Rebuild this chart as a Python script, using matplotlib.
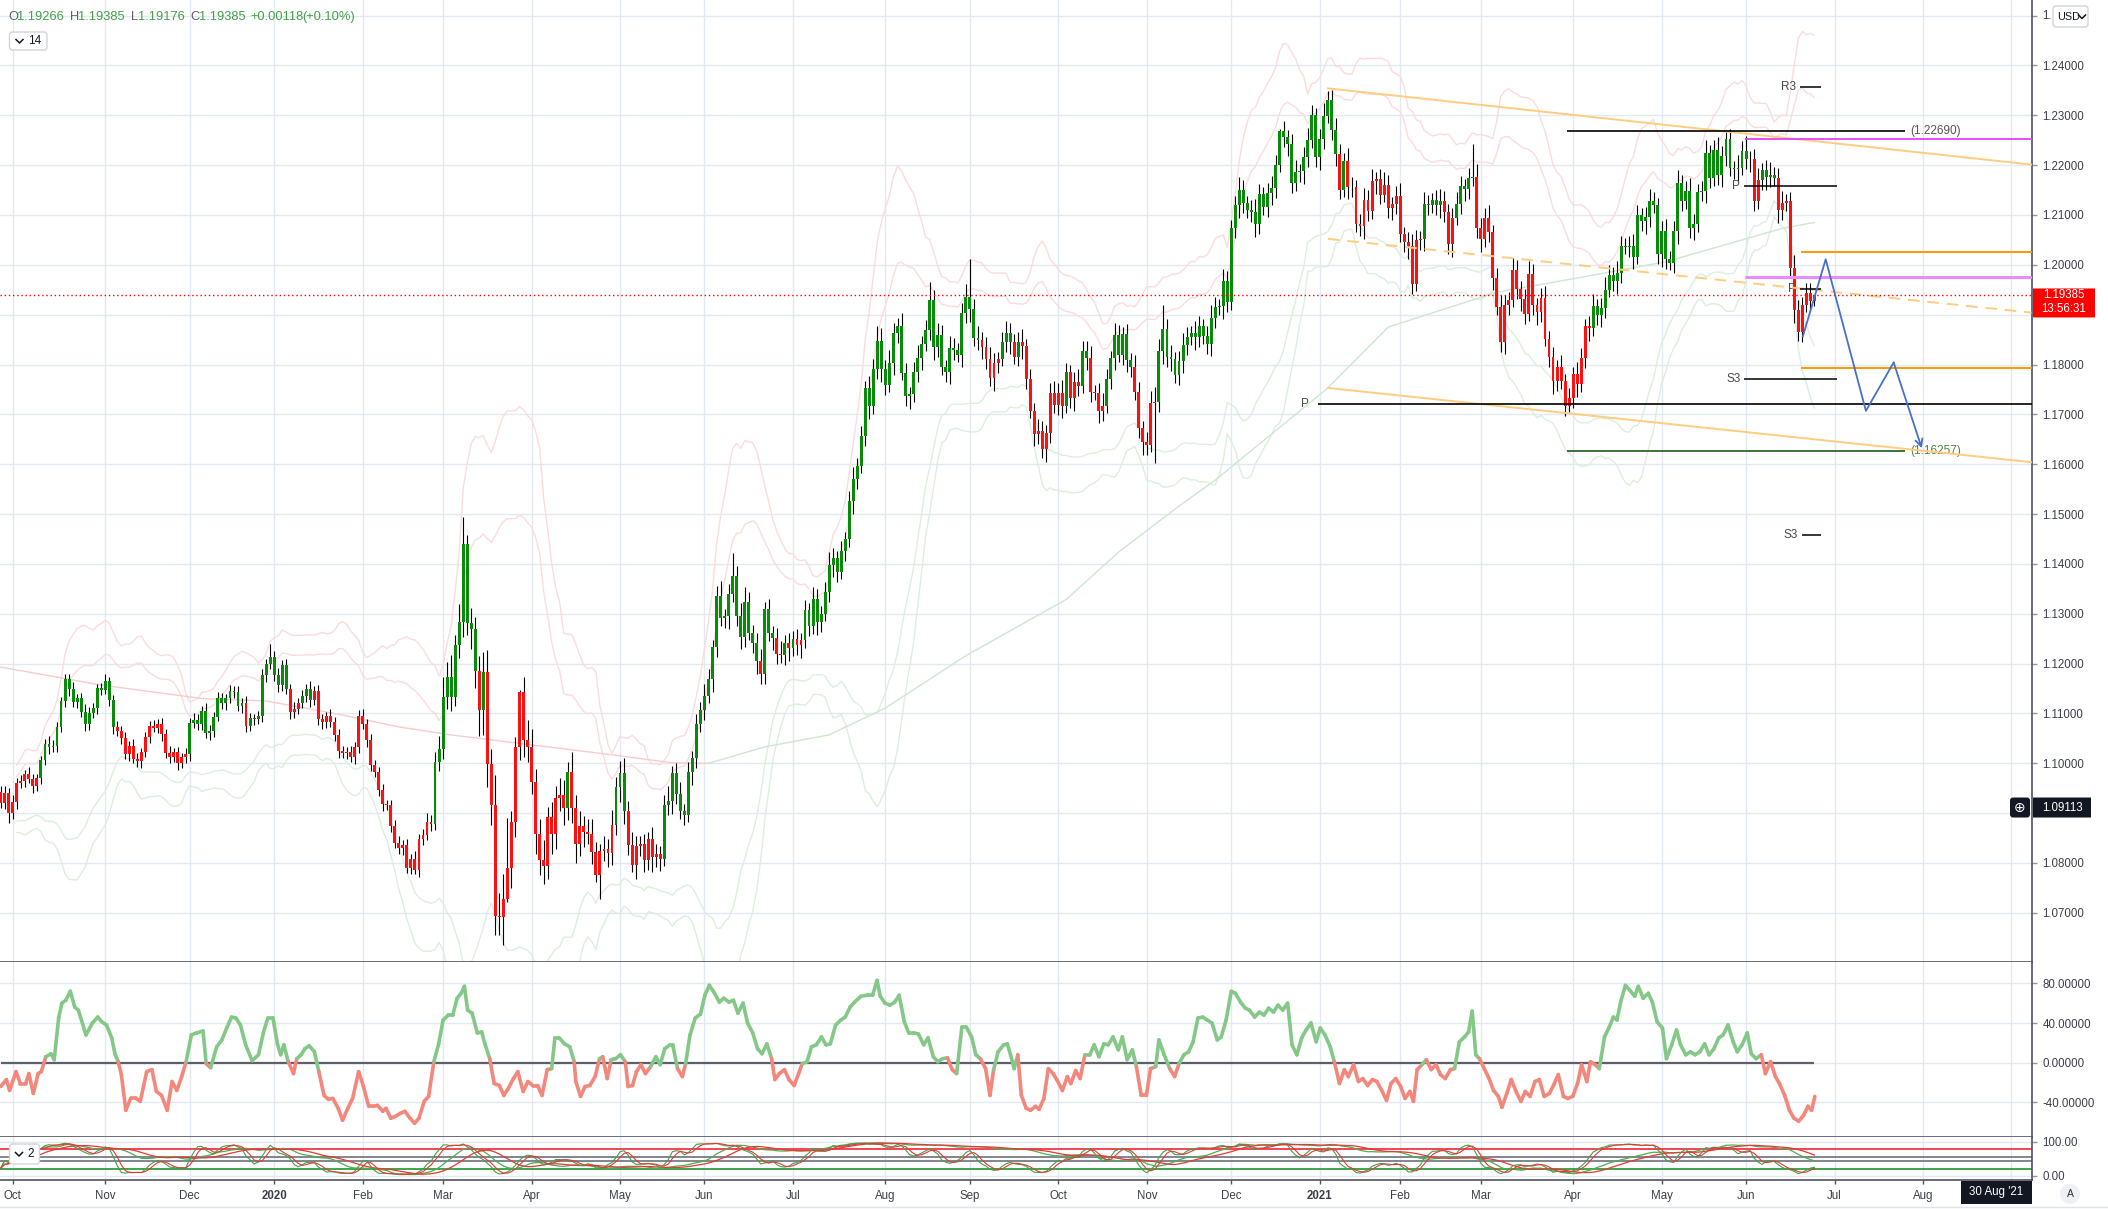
import numpy as np
import pandas as pd
import matplotlib
matplotlib.use("Agg")
import matplotlib.pyplot as plt
from matplotlib import transforms
from matplotlib.collections import LineCollection
from matplotlib.patches import FancyBboxPatch, Circle
from matplotlib.lines import Line2D

plt.rcParams['font.family'] = ['Liberation Sans', 'DejaVu Sans']

# ---------------- data (EURUSD daily) ----------------
first_day = '2019-09-26'
closed_days = ['2019-12-25', '2020-01-01', '2020-12-25', '2021-01-01']
first_open = 1.0943

# daily closes in pips (1 pip = 0.0001)
close_pips = [
    10921, 10940, 10900, 10923, 10960, 10965, 10979, 10969, 10955, 10970,
    11007, 11039, 11032, 11035, 11072, 11125, 11170, 11149, 11123, 11130,
    11103, 11079, 11100, 11110, 11151, 11148, 11165, 11127, 11073, 11065,
    11050, 11019, 11035, 11009, 11005, 11022, 11053, 11075, 11070, 11078,
    11058, 11020, 11012, 11022, 11000, 11012, 11018, 11080, 11087, 11079,
    11105, 11060, 11065, 11093, 11130, 11120, 11130, 11145, 11143, 11115,
    11121, 11075, 11091, 11088, 11095, 11177, 11199, 11213, 11177, 11157,
    11197, 11150, 11103, 11108, 11120, 11135, 11150, 11127, 11145, 11088,
    11082, 11095, 11082, 11057, 11025, 11020, 11022, 11013, 11033, 11095,
    11078, 11047, 10997, 10983, 10947, 10919, 10917, 10875, 10840, 10830,
    10836, 10790, 10809, 10785, 10849, 10857, 10883, 10879, 11003, 11029,
    11133, 11173, 11134, 11237, 11284, 11440, 11282, 11269, 11186, 11106,
    11183, 10998, 10916, 10694, 10692, 10727, 10789, 10883, 11032, 11143,
    11047, 11033, 10963, 10858, 10806, 10793, 10892, 10858, 10930, 10936,
    10911, 10982, 10911, 10839, 10874, 10863, 10858, 10823, 10776, 10824,
    10829, 10821, 10876, 10953, 10980, 10904, 10837, 10795, 10835, 10839,
    10806, 10848, 10812, 10819, 10808, 10916, 10924, 10980, 10938, 10904,
    10897, 10982, 11010, 11078, 11107, 11135, 11169, 11233, 11336, 11291,
    11295, 11339, 11376, 11296, 11254, 11323, 11262, 11242, 11205, 11179,
    11309, 11261, 11252, 11220, 11217, 11242, 11231, 11250, 11237, 11247,
    11307, 11275, 11329, 11283, 11300, 11343, 11398, 11411, 11384, 11426,
    11449, 11526, 11570, 11597, 11657, 11752, 11716, 11791, 11848, 11790,
    11759, 11804, 11863, 11878, 11783, 11736, 11740, 11785, 11814, 11842,
    11870, 11930, 11835, 11859, 11794, 11785, 11833, 11829, 11820, 11903,
    11936, 11911, 11853, 11850, 11836, 11811, 11772, 11803, 11811, 11846,
    11863, 11846, 11816, 11846, 11837, 11770, 11707, 11661, 11666, 11630,
    11663, 11742, 11718, 11743, 11717, 11784, 11732, 11765, 11757, 11828,
    11813, 11744, 11743, 11707, 11717, 11770, 11813, 11859, 11820, 11861,
    11809, 11794, 11744, 11672, 11644, 11639, 11722, 11725, 11827, 11872,
    11815, 11811, 11778, 11807, 11839, 11855, 11863, 11855, 11877, 11857,
    11842, 11894, 11915, 11917, 11967, 11925, 12074, 12119, 12151, 12123,
    12109, 12106, 12081, 12142, 12115, 12144, 12154, 12201, 12269, 12256,
    12243, 12164, 12186, 12188, 12216, 12250, 12300, 12216, 12252, 12299,
    12330, 12270, 12223, 12151, 12209, 12157, 12156, 12081, 12077, 12130,
    12107, 12168, 12172, 12141, 12161, 12114, 12122, 12139, 12061, 12045,
    12037, 11962, 12049, 12052, 12121, 12119, 12130, 12119, 12128, 12106,
    12041, 12094, 12121, 12158, 12152, 12174, 12177, 12074, 12051, 12094,
    12065, 11974, 11915, 11846, 11919, 11930, 11989, 11952, 11932, 11902,
    11982, 11919, 11905, 11933, 11852, 11815, 11766, 11795, 11766, 11717,
    11733, 11780, 11760, 11813, 11877, 11873, 11917, 11900, 11913, 11950,
    11980, 11967, 11983, 12038, 12036, 12037, 12016, 12099, 12087, 12096,
    12127, 12119, 12021, 12067, 12012, 12004, 12067, 12165, 12127, 12149,
    12074, 12081, 12147, 12149, 12225, 12174, 12231, 12181, 12218, 12253,
    12194, 12193, 12195, 12228, 12213, 12212, 12127, 12170, 12190, 12176,
    12181, 12174, 12109, 12123, 12127, 11994, 11909, 11865, 11920, 11944,
    11927, 11939,
]

# wick above / below the body, pips
wick_up = [
    12, 15, 10, 14, 10, 12, 8, 14, 10, 9,
    8, 10, 15, 12, 10, 8, 9, 9, 14, 10,
    12, 15, 12, 10, 8, 10, 14, 8, 10, 12,
    9, 12, 10, 13, 12, 8, 10, 9, 12, 10,
    12, 10, 15, 8, 10, 9, 12, 10, 14, 12,
    10, 15, 12, 9, 14, 12, 10, 13, 10, 12,
    10, 14, 9, 8, 10, 12, 10, 26, 12, 15,
    10, 12, 9, 14, 10, 12, 10, 15, 10, 12,
    10, 8, 14, 10, 12, 9, 10, 12, 10, 12,
    14, 10, 12, 9, 10, 12, 8, 10, 12, 14,
    10, 12, 9, 15, 10, 12, 18, 14, 20, 25,
    40, 30, 45, 20, 35, 55, 18, 30, 25, 30,
    40, 45, 30, 60, 45, 50, 101, 22, 20, 4,
    30, 40, 35, 25, 30, 40, 20, 30, 25, 35,
    30, 20, 40, 25, 30, 20, 25, 30, 20, 15,
    25, 20, 30, 20, 25, 30, 20, 25, 20, 15,
    20, 15, 25, 20, 15, 20, 30, 15, 20, 25,
    15, 20, 15, 20, 15, 25, 20, 15, 20, 30,
    15, 20, 46, 20, 25, 30, 20, 15, 20, 25,
    15, 20, 15, 20, 25, 15, 20, 15, 20, 15,
    20, 15, 25, 20, 15, 20, 25, 20, 15, 20,
    15, 20, 25, 15, 20, 15, 25, 20, 30, 25,
    20, 25, 20, 15, 25, 20, 15, 20, 25, 15,
    20, 35, 20, 25, 20, 15, 25, 20, 15, 20,
    25, 75, 20, 25, 15, 20, 25, 20, 15, 20,
    25, 20, 15, 20, 25, 15, 20, 15, 25, 20,
    15, 20, 25, 20, 25, 20, 15, 20, 25, 20,
    20, 25, 15, 20, 25, 20, 15, 25, 20, 15,
    20, 15, 25, 20, 15, 20, 25, 30, 25, 48,
    20, 25, 15, 20, 25, 20, 15, 25, 20, 15,
    20, 25, 20, 15, 25, 20, 15, 20, 25, 20,
    15, 20, 25, 20, 15, 20, 25, 20, 3, 20,
    15, 20, 25, 15, 20, 25, 20, 15, 20, 25,
    19, 20, 25, 20, 15, 25, 20, 15, 20, 25,
    20, 25, 15, 20, 25, 20, 15, 20, 25, 15,
    20, 25, 20, 15, 25, 20, 15, 20, 25, 20,
    15, 20, 25, 20, 15, 20, 66, 25, 20, 20,
    25, 15, 20, 25, 20, 15, 25, 20, 15, 20,
    25, 20, 15, 20, 25, 15, 20, 15, 25, 15,
    20, 15, 25, 20, 15, 20, 25, 15, 20, 25,
    20, 15, 25, 20, 15, 20, 25, 20, 15, 20,
    25, 20, 15, 20, 25, 15, 20, 25, 15, 20,
    25, 20, 15, 20, 25, 15, 20, 25, 20, 13,
    20, 15, 25, 20, 30, 15, 20, 25, 15, 20,
    25, 15, 20, 25, 15, 20, 25, 20, 15, 20,
    20, 0,
]
wick_dn = [
    10, 12, 20, 12, 14, 10, 12, 8, 14, 10,
    12, 10, 14, 10, 12, 10, 12, 14, 10, 12,
    10, 14, 12, 9, 12, 10, 8, 12, 14, 10,
    12, 10, 14, 9, 12, 14, 10, 12, 8, 10,
    14, 10, 12, 9, 14, 10, 12, 14, 10, 12,
    12, 10, 14, 12, 9, 12, 14, 10, 12, 10,
    14, 12, 10, 12, 9, 12, 14, 10, 12, 14,
    12, 10, 14, 12, 10, 9, 12, 14, 10, 12,
    14, 12, 10, 12, 14, 9, 12, 10, 14, 12,
    10, 14, 12, 10, 12, 14, 10, 12, 9, 12,
    14, 10, 12, 7, 14, 12, 10, 15, 12, 18,
    20, 25, 30, 20, 25, 30, 25, 40, 35, 51,
    50, 45, 40, 39, 37, 56, 5, 40, 30, 25,
    35, 30, 25, 40, 30, 35, 25, 40, 30, 25,
    35, 25, 30, 40, 25, 30, 20, 25, 15, 49,
    20, 30, 25, 20, 30, 25, 20, 13, 28, 20,
    25, 20, 30, 20, 25, 15, 20, 25, 20, 15,
    20, 15, 25, 20, 15, 20, 15, 25, 20, 15,
    20, 25, 15, 20, 25, 20, 15, 20, 25, 20,
    20, 15, 25, 20, 15, 20, 25, 15, 20, 25,
    15, 20, 15, 25, 20, 15, 20, 25, 20, 15,
    20, 15, 25, 20, 15, 20, 25, 15, 20, 25,
    20, 15, 25, 20, 15, 20, 25, 15, 20, 25,
    15, 20, 25, 20, 15, 20, 25, 20, 15, 25,
    20, 25, 15, 20, 25, 20, 15, 25, 20, 15,
    20, 25, 15, 20, 25, 20, 15, 25, 20, 18,
    25, 20, 15, 20, 25, 15, 20, 25, 20, 15,
    25, 20, 15, 25, 20, 15, 20, 25, 15, 20,
    25, 20, 15, 20, 25, 20, 15, 120, 20, 25,
    20, 25, 15, 20, 25, 20, 15, 25, 20, 15,
    20, 25, 20, 15, 25, 20, 15, 20, 25, 20,
    15, 20, 25, 20, 15, 20, 25, 20, 15, 20,
    25, 20, 15, 20, 25, 20, 15, 20, 25, 20,
    15, 20, 25, 20, 15, 25, 20, 15, 20, 25,
    20, 15, 25, 20, 15, 20, 25, 20, 15, 20,
    25, 20, 15, 20, 25, 20, 15, 20, 25, 20,
    20, 25, 15, 20, 25, 20, 15, 20, 25, 15,
    20, 25, 15, 20, 25, 20, 15, 20, 25, 20,
    15, 20, 25, 20, 15, 20, 25, 20, 15, 20,
    13, 20, 25, 15, 20, 25, 15, 20, 25, 20,
    15, 20, 25, 20, 15, 20, 25, 15, 20, 25,
    20, 15, 20, 25, 20, 15, 20, 25, 20, 15,
    20, 25, 15, 20, 25, 20, 15, 20, 25, 20,
    15, 20, 25, 15, 20, 25, 20, 15, 20, 25,
    20, 15, 25, 20, 15, 20, 25, 18, 20, 15,
    20, 9,
]

# bars painted green by the bar-colour indicator (inclusive ranges)
green_runs = [(10, 28), (47, 60), (62, 71), (75, 77), (108, 118), (120, 120),
              (141, 141), (153, 155), (165, 188), (190, 192), (195, 195),
              (197, 197), (200, 243), (249, 251), (253, 253), (265, 265),
              (269, 270), (275, 281), (288, 332), (334, 334), (354, 358),
              (362, 366), (396, 435), (438, 441)]

# oscillator (middle pane), read as (bar, value) points
osc_bars = [
    0.0, 1.4, 2.2, 3.8, 4.9, 6.2, 7.0, 8.1, 9.3, 10.1,
    11.2, 12.5, 13.3, 14.4, 15.2, 16.2, 17.3, 18.4, 19.3, 21.2,
    22.8, 24.1, 25.2, 26.3, 27.6, 28.4, 29.2, 30.0, 31.1, 32.3,
    33.6, 34.7, 36.3, 37.6, 38.7, 40.0, 41.4, 42.6, 43.8, 45.0,
    46.1, 47.4, 48.7, 50.3, 51.1, 52.2, 53.7, 55.0, 56.3, 57.4,
    58.5, 59.6, 60.9, 62.5, 64.1, 65.3, 66.4, 67.7, 68.8, 69.6,
    70.4, 71.5, 72.8, 73.6, 74.7, 75.6, 76.7, 78.0, 79.1, 80.4,
    81.5, 82.6, 83.9, 85.0, 86.3, 87.5, 89.0, 90.2, 91.5, 92.6,
    93.7, 95.0, 95.8, 97.0, 98.2, 99.4, 100.5, 101.8, 102.9, 104.0,
    105.3, 106.4, 107.7, 108.9, 110.0, 111.3, 112.4, 113.5, 114.5, 115.3,
    116.1, 117.2, 118.5, 119.6, 120.4, 121.6, 122.7, 124.0, 125.1, 126.2,
    127.5, 128.6, 129.9, 131.1, 132.3, 133.5, 134.6, 135.9, 137.0, 137.8,
    138.9, 140.2, 141.5, 142.6, 143.0, 144.2, 145.3, 146.5, 147.8, 148.9,
    149.7, 150.8, 151.8, 152.9, 154.1, 155.3, 156.0, 157.1, 158.1, 159.2,
    160.3, 161.6, 162.9, 164.0, 165.1, 166.4, 167.1, 168.3, 169.5, 170.3,
    171.4, 172.7, 174.0, 175.1, 176.2, 177.5, 178.7, 179.8, 181.1, 182.2,
    183.3, 184.6, 185.7, 187.0, 188.2, 189.3, 190.5, 191.7, 192.5, 193.6,
    194.9, 196.0, 197.3, 198.4, 199.3, 200.5, 201.6, 202.8, 204.1, 205.2,
    206.3, 207.6, 208.9, 210.0, 211.2, 212.3, 213.9, 215.5, 216.8, 217.9,
    218.7, 219.9, 221.1, 222.3, 223.4, 224.7, 225.8, 227.1, 228.2, 229.5,
    230.6, 231.9, 233.0, 234.2, 235.4, 236.6, 237.7, 239.0, 240.1, 241.4,
    242.5, 243.6, 244.9, 246.0, 246.9, 248.0,
    249.4, 250.3, 251.1, 252.0, 252.9, 253.8, 255.0, 256.1, 257.3, 258.2,
    259.4, 260.5, 261.7, 262.6, 264.0, 265.2, 266.1, 267.3, 268.4, 269.6,
    270.8, 271.9, 273.1, 274.3, 275.4, 276.6, 277.9, 278.9, 280.1, 281.4,
    282.4, 283.6, 284.9, 285.9, 287.2, 288.0, 289.3, 290.7, 291.9, 293.0,
    294.2, 295.4, 296.5, 297.7, 298.9, 300.0, 301.2, 302.5, 303.5, 304.7,
    306.0, 307.0, 308.3, 309.5, 310.5, 311.8, 313.0, 314.1, 315.3, 316.5,
    317.6, 318.8, 320.0, 321.1, 322.3, 323.5, 324.6, 325.8, 327.1, 328.1,
    329.3, 330.6, 331.6, 332.9, 334.1, 335.1, 336.4, 337.6, 338.7, 339.9,
    341.1, 342.2, 343.4, 344.6, 345.7, 346.9, 348.1, 349.2, 350.4, 351.3,
    352.2, 353.4, 354.5, 355.7, 356.9, 358.0, 359.2, 360.5, 361.5, 362.7,
    364.0, 365.0, 365.9, 366.8, 367.7, 368.9, 370.1, 371.2, 372.4, 373.3,
    374.5, 375.6, 376.8, 378.0, 379.1, 380.3, 381.5, 382.6, 383.8, 385.1,
    386.1, 387.3, 388.6, 389.6, 390.9, 392.1, 393.1, 394.4, 395.3, 396.5,
    397.5, 398.8, 400.0, 401.0, 401.9, 402.8, 404.0, 405.3, 406.3, 407.2,
    408.4, 409.7, 410.7, 411.9, 413.2, 414.2, 415.5, 416.7, 417.7, 419.0,
    420.2, 421.3, 422.5, 423.7, 424.8, 426.0, 427.2, 428.3, 429.5, 430.8,
    431.8, 433.0, 434.3, 435.3, 436.5, 437.8, 438.8, 440.1, 441.3, 442.3,
    443.6, 444.8, 445.9, 447.1, 448.3, 449.4, 450.3, 451.1,
]
osc_vals = [
    -24, -17, -28, -9, -21, -21, -11, -31, -11, -9,
    6, 9, 3, 45, 60, 63, 72, 56, 53, 28,
    40, 46, 41, 38, 25, 9, 1, -12, -48, -36,
    -36, -39, -9, -7, -29, -33, -48, -19, -28, -14,
    1, 28, 30, 32, -1, -5, 16, 23, 36, 46,
    45, 38, 18, 2, 8, 30, 45, 45, 19, 8,
    18, 1, -11, 4, 8, 14, 17, 11, -9, -33,
    -37, -36, -46, -58, -46, -36, -9, -24, -44, -44,
    -43, -49, -46, -56, -54, -51, -49, -56, -61, -56,
    -39, -34, 1, 19, 43, 48, 48, 65, 70, 77,
    53, 50, 30, 31, 19, 4, -21, -23, -33, -26,
    -16, -9, -29, -19, -23, -23, -33, -7, -6, 25,
    25, 19, 16, 1, -19, -34, -24, -23, -14, 4,
    6, -16, 3, 4, 8, 1, -24, -23, -9, -2,
    -11, -4, 6, -2, 14, 18, 18, -6, -14, -1,
    28, 45, 49, 68, 78, 70, 61, 65, 61, 63,
    50, 60, 40, 30, 14, 9, 19, 4, -17, -11,
    -7, -17, -23, -11, -1, 1, 16, 18, 26, 18,
    19, 38, 43, 46, 56, 61, 67, 68, 68, 83,
    67, 60, 58, 61, 68, 41, 30, 30, 29, 18,
    25, 6, 1, 4, 5, -7, -11, 36, 36, 26,
    8, 4, -6, -33, -7, 11,
    18, 19, 8, -6, 8, -33, -46, -48, -44, -47,
    -36, -6, -11, -17, -28, -14, -21, -8, -16, 8,
    8, 18, 6, 19, 18, 26, 13, 26, 3, 13,
    -4, -33, -33, -6, -4, 23, 8, -6, -14, -1,
    8, 11, 21, 45, 46, 43, 40, 23, 26, 43,
    72, 70, 61, 55, 53, 46, 51, 48, 55, 51,
    58, 53, 60, 18, 8, 25, 33, 40, 21, 35,
    28, 16, 1, -21, -7, -14, -2, -19, -16, -23,
    -17, -19, -28, -38, -21, -16, -24, -36, -29, -39,
    -7, -2, 3, -7, -2, -12, -16, -7, -6, 21,
    26, 31, 52, 8, 4, -6, -16, -28, -34, -45,
    -31, -17, -29, -39, -29, -34, -19, -17, -34, -31,
    -23, -12, -34, -36, -34, -21, -2, -19, 1, -2,
    -6, 26, 36, 46, 43, 61, 78, 72, 67, 77,
    65, 70, 61, 41, 35, 4, 18, 33, 18, 8,
    11, 8, 11, 19, 8, 14, 25, 28, 38, 21,
    11, 18, 30, 9, 4, 8, -11, 1, -14, -21,
    -33, -48, -56, -59, -53, -44, -48, -34,
]

# long moving average overlay, read as (bar, price)
ma_bars = [0, 25, 50, 66, 83, 99, 112, 132, 152, 167, 176, 190, 206, 220,
           240, 265, 278, 293, 302, 330, 345, 372, 391, 414, 443, 451]
ma_vals = [1.1193, 1.1157, 1.1130, 1.1125, 1.1100, 1.1073, 1.1057, 1.1037,
           1.1017, 1.1001, 1.1000, 1.1033, 1.1057, 1.1111, 1.1216, 1.1329,
           1.1424, 1.1516, 1.1568, 1.1753, 1.1875, 1.1945, 1.1972, 1.2006,
           1.2073, 1.2085]
ma_turn_bar = 176

# drawings: descending channel from the Jan-2021 top (start bar, end bar, prices)
channel_bars = [330, 505]
channel_top = [1.2354, 1.2201]
channel_mid = [1.2052, 1.1904]
channel_bot = [1.1753, 1.1604]

# horizontal levels
pivot_p_level = 1.1721
range_hi, range_lo = 1.22690, 1.16257
range_bars = [389.5, 473.6]
magenta_level, violet_level = 1.2253, 1.1975
orange_levels = [1.2025, 1.1792]
short_pivots = [('R3', 447.5, 452.7, 1.2356), ('P', 433.6, 456.5, 1.2158),
                ('P', 447.5, 452.7, 1.1951), ('S3', 433.6, 456.5, 1.1770),
                ('S3', 448.0, 452.7, 1.1458)]

# projected path (blue zig-zag)
path_bars = [448.1, 453.8, 463.8, 470.7, 477.7]
path_prices = [1.1856, 1.2011, 1.1707, 1.1804, 1.1632]

last_price = 1.19385
cross_price = 1.09113
ohlc_text = ['1.19266', '1.19385', '1.19176', '1.19385', '+0.00118', '(+0.10%)']

# ---------------- derived series ----------------
closes = np.array(close_pips) / 10000.0
n = len(closes)


def per_bar(vals):
    a = np.zeros(n)
    m = min(n, len(vals))
    a[:m] = vals[:m]
    return a


opens = np.concatenate([[first_open], closes[:-1]])
body_top = np.maximum(opens, closes)
body_bot = np.minimum(opens, closes)
highs = body_top + per_bar(wick_up) / 10000.0
lows = body_bot - per_bar(wick_dn) / 10000.0
idx = np.arange(n)

is_green = np.zeros(n, bool)
for s, e in green_runs:
    is_green[s:e + 1] = True

cl, hi, lo = pd.Series(closes), pd.Series(highs), pd.Series(lows)
mid20 = cl.rolling(20, min_periods=5).mean()
sd20 = cl.rolling(20, min_periods=5).std()


def stoch(win, smooth):
    ll = lo.rolling(win, min_periods=1).min()
    hh = hi.rolling(win, min_periods=1).max()
    k = (100 * (cl - ll) / (hh - ll)).rolling(smooth, min_periods=1).mean()
    return k, k.rolling(smooth, min_periods=1).mean()


fast_k, fast_d = stoch(14, 3)
slow_k, slow_d = stoch(60, 8)

cal = pd.date_range(first_day, periods=n + 80,
                    freq=pd.offsets.CustomBusinessDay(holidays=closed_days))
x_left, x_right = -0.18, 505.1
month_pos = [i for i in range(1, len(cal))
             if cal[i].month != cal[i - 1].month and i < x_right]
month_lab = [str(cal[i].year) if cal[i].month == 1 else cal[i].strftime('%b')
             for i in month_pos]
# the last month label sits under the crosshair date tag
month_lab[-1] = ''

# ---------------- figure ----------------
W, H = 2108, 1209
fig = plt.figure(figsize=(W / 100, H / 100), dpi=100)
pix = transforms.Affine2D().scale(1, -1).translate(0, H)

axis_x = 2032
ax = fig.add_axes([0, 1 - 962 / H, axis_x / W, 962 / H])
axo = fig.add_axes([0, 1 - 1137 / H, axis_x / W, 175 / H], sharex=ax)
axs = fig.add_axes([0, 1 - 1180 / H, axis_x / W, 43 / H], sharex=ax)

grid_c = '#e3e9f0'
line_c = '#50535e'
text_c = '#3c3f4a'
green_c, red_c = '#0a8a0a', '#ff1010'

for a in (ax, axo, axs):
    a.set_facecolor('white')
    a.spines['top'].set_visible(False)
    a.spines['left'].set_visible(False)
    for s in ('right', 'bottom'):
        a.spines[s].set_color(line_c)
        a.spines[s].set_linewidth(1.2)
    a.yaxis.tick_right()
    a.tick_params(axis='y', direction='out', length=3.5, width=1, color='#9598a1',
                  labelsize=8.3, labelcolor=text_c, pad=4)
    a.tick_params(axis='x', length=0, labelbottom=False)
    a.set_xticks(month_pos)
    a.grid(True, color=grid_c, lw=1)
    a.set_axisbelow(True)

ax.set_xlim(x_left, x_right)

# main price pane (labels hidden behind the price tags are left blank)
ax.set_ylim(1.06014, 1.25312)
price_ticks = np.round(np.arange(1.07, 1.2501, 0.01), 2)
covered = {1.09, 1.19, 1.25}
ax.set_yticks(price_ticks)
ax.set_yticklabels(['' if v in covered else f'{v:.5f}' for v in price_ticks])

for k in (2.0, 3.0):
    ax.plot(idx, mid20 + k * sd20, color='#fbdcdc', lw=1, zorder=1)
    ax.plot(idx, mid20 - k * sd20, color='#dcefdd', lw=1, zorder=1)

ma_b, ma_v = np.array(ma_bars), np.array(ma_vals)
turn = np.searchsorted(ma_b, ma_turn_bar)
ax.plot(ma_b[:turn + 1], ma_v[:turn + 1], color='#f7cccc', lw=1, zorder=1)
ax.plot(ma_b[turn:], ma_v[turn:], color='#cfe6d0', lw=1, zorder=1)

ax.vlines(idx, lows, highs, color='black', lw=0.8, zorder=3)
ax.bar(idx, np.maximum(body_top - body_bot, 0.00006), bottom=body_bot, width=0.72,
       color=np.where(is_green, green_c, red_c), lw=0, zorder=4)

# channel
peach = '#ffcc80'
ax.plot(channel_bars, channel_top, color=peach, lw=1.4, zorder=5)
ax.plot(channel_bars, channel_bot, color=peach, lw=1.4, zorder=5)
ax.plot(channel_bars, channel_mid, color=peach, lw=1.4, ls=(0, (6, 4)), zorder=5)

# levels
ax.hlines(pivot_p_level, 327.6, x_right, color='black', lw=1.2, zorder=5)
ax.annotate('P', (327.6, pivot_p_level), xytext=(-7, 0), textcoords='offset points',
            ha='right', va='center', fontsize=8.5, color='#4a4a4a')
ax.hlines(range_hi, *range_bars, color='black', lw=1.2, zorder=5)
ax.hlines(range_lo, *range_bars, color='#1e5a1e', lw=1.2, zorder=5)
ax.annotate(f'({range_hi:.5f})', (range_bars[1], range_hi), xytext=(3.5, 0),
            textcoords='offset points', ha='left', va='center', fontsize=8.5, color='#555555')
ax.annotate(f'({range_lo:.5f})', (range_bars[1], range_lo), xytext=(3.5, 0),
            textcoords='offset points', ha='left', va='center', fontsize=8.5, color='#55803a')
ax.hlines(magenta_level, 433.8, x_right, color='#e040fb', lw=1.3, zorder=5)
ax.hlines(violet_level, 433.8, x_right, color='#ea8cf7', lw=2.2, zorder=5)
for lv in orange_levels:
    ax.hlines(lv, 447.7, x_right, color='#ff9800', lw=1.4, zorder=5)
for lab, b0, b1, lv in short_pivots:
    ax.hlines(lv, b0, b1, color='black', lw=1.1, zorder=5)
    ax.annotate(lab, (b0, lv), xytext=(-3, 0), textcoords='offset points',
                ha='right', va='center', fontsize=8.5, color='#4a4a4a')

ax.axhline(last_price, color='#ff0000', lw=1.0, ls=(0, (1, 2)), zorder=6)

blue = '#4670c8'
ax.plot(path_bars[:-1], path_prices[:-1], color=blue, lw=1.3, zorder=7)
ax.annotate('', xy=(path_bars[-1], path_prices[-1]), xytext=(path_bars[-2], path_prices[-2]),
            arrowprops=dict(arrowstyle='->', color=blue, lw=1.3, mutation_scale=13,
                            shrinkA=0, shrinkB=0), zorder=7)

# oscillator pane
axo.set_ylim(-74.9, 101.5)
axo.set_yticks([-40, 0, 40, 80])
axo.set_yticklabels([f'{v:.5f}' for v in (-40, 0, 40, 80)])
axo.hlines(0, 0, n - 1, color='#5d606b', lw=1.6, zorder=2)
ox, oy = np.array(osc_bars), np.array(osc_vals, float)
pts = np.column_stack([ox, oy])
segs = np.stack([pts[:-1], pts[1:]], axis=1)
mid = (oy[:-1] + oy[1:]) / 2
lc = LineCollection(segs, colors=np.where(mid >= 0, '#84c887', '#f4877c'),
                    linewidths=2.6, capstyle='round', joinstyle='round', zorder=3)
axo.add_collection(lc)

# stochastic pane
axs.set_ylim(-12.8, 114.8)
axs.set_yticks([0, 100])
axs.set_yticklabels(['0.00', '100.00'])
axs.axhline(80, color='#f23645', lw=1.3, zorder=2)
axs.axhline(55, color='#787b86', lw=1.3, zorder=2)
axs.axhline(45, color='#787b86', lw=1.3, zorder=2)
axs.axhline(20, color='#2e9e3e', lw=1.3, zorder=2)
axs.plot(idx, slow_k, color='#4caf50', lw=0.9, zorder=3)
axs.plot(idx, slow_d, color='#e53935', lw=0.9, zorder=3)
axs.plot(idx, fast_k, color='#43a047', lw=0.8, zorder=3)
axs.plot(idx, fast_d, color='#e53935', lw=0.8, zorder=3)
axs.tick_params(axis='x', length=3, width=1, color=line_c, labelbottom=True,
                labelsize=8.3, labelcolor=text_c, pad=4)
axs.set_xticklabels(month_lab)
for t in axs.get_xticklabels():
    if t.get_text().isdigit():
        t.set_fontweight('bold')

# ---------------- chrome ----------------


def box(x0, y0, x1, y1, fc, ec='none', r=0.0, lw=1.0, z=5):
    fig.add_artist(FancyBboxPatch((x0, y0), x1 - x0, y1 - y0,
                                  boxstyle=f'round,pad=0,rounding_size={r}',
                                  transform=pix, fc=fc, ec=ec, lw=lw, zorder=z))


def ftext(x, y, s, **kw):
    kw.setdefault('zorder', 8)
    fig.text(x, y, s, transform=pix, **kw)


def chevron(x, y, c='#131722'):
    fig.add_artist(Line2D([x - 3.5, x, x + 3.5], [y - 2, y + 1.5, y - 2], transform=pix,
                          color=c, lw=1.1, zorder=8))


def py(a, v):
    return H - a.transData.transform((0, v))[1]


# header
hdr = [(8.3, 'O', None), (16.7, ohlc_text[0], 1), (70.0, 'H', None), (78.3, ohlc_text[1], 1),
       (131.0, 'L', None), (138.3, ohlc_text[2], 1), (190.7, 'C', None),
       (199.0, ohlc_text[3], 1), (250.7, ohlc_text[4], 1), (302.7, ohlc_text[5], 1)]
for x, s, g in hdr:
    ftext(x, 17, s, fontsize=9.3, va='center', ha='left',
          color='#43a047' if g else '#5d606b')
box(9.5, 32, 47, 50, 'white', '#d1d4dc', r=3)
chevron(19.5, 41.5)
ftext(28, 41, '14', fontsize=8.5, va='center', color='#131722')

box(9.5, 1144, 39.5, 1164, 'white', '#d1d4dc', r=3)
chevron(19, 1154.5)
ftext(27.5, 1154, '2', fontsize=8.5, va='center', color='#131722')

# partly hidden top price label and the currency button
ftext(2042, py(ax, 1.25), '1.', fontsize=8.3, va='center', ha='left', color=text_c)
box(2053, 6, 2088, 27, 'white', '#d1d4dc', r=3)
ftext(2057, 16.5, 'USD', fontsize=7.8, va='center', color='#131722')
chevron(2082, 17)

# last price tag
yp = py(ax, last_price)
box(2033, yp - 7, 2095, yp + 22, '#ff0000', z=6)
ftext(2064, yp, f'{last_price:.5f}', fontsize=8.3, ha='center', va='center', color='white')
ftext(2064, yp + 14, '13:56:31', fontsize=8.3, ha='center', va='center', color='white')

# crosshair price tag
yc = py(ax, cross_price)
box(2033, yc - 10, 2091, yc + 10, '#131722', z=6)
ftext(2062, yc, f'{cross_price:.5f}', fontsize=8.3, ha='center', va='center', color='white')
box(2010, yc - 10, 2030, yc + 10, '#131722', r=3, z=6)
ftext(2020, yc, '\u2295', fontsize=10, ha='center', va='center', color='white',
      family=['DejaVu Sans'])

# crosshair date tag
box(1961, 1181, 2032, 1204, '#131722', z=6)
ftext(1996.5, 1192.5, "30 Aug '21", fontsize=8.3, ha='center', va='center', color='white')

# auto-scale button
fig.add_artist(Circle((2070, 1194), 10, transform=pix, fc='#eef0f5', ec='none', zorder=6))
ftext(2070, 1194, 'A', fontsize=7.5, ha='center', va='center', color='#2a2e39')

fig.add_artist(Line2D([0, W], [1207, 1207], transform=pix, color='#e0e3eb', lw=1))

fig.savefig('out.png', dpi=100, facecolor='white')
